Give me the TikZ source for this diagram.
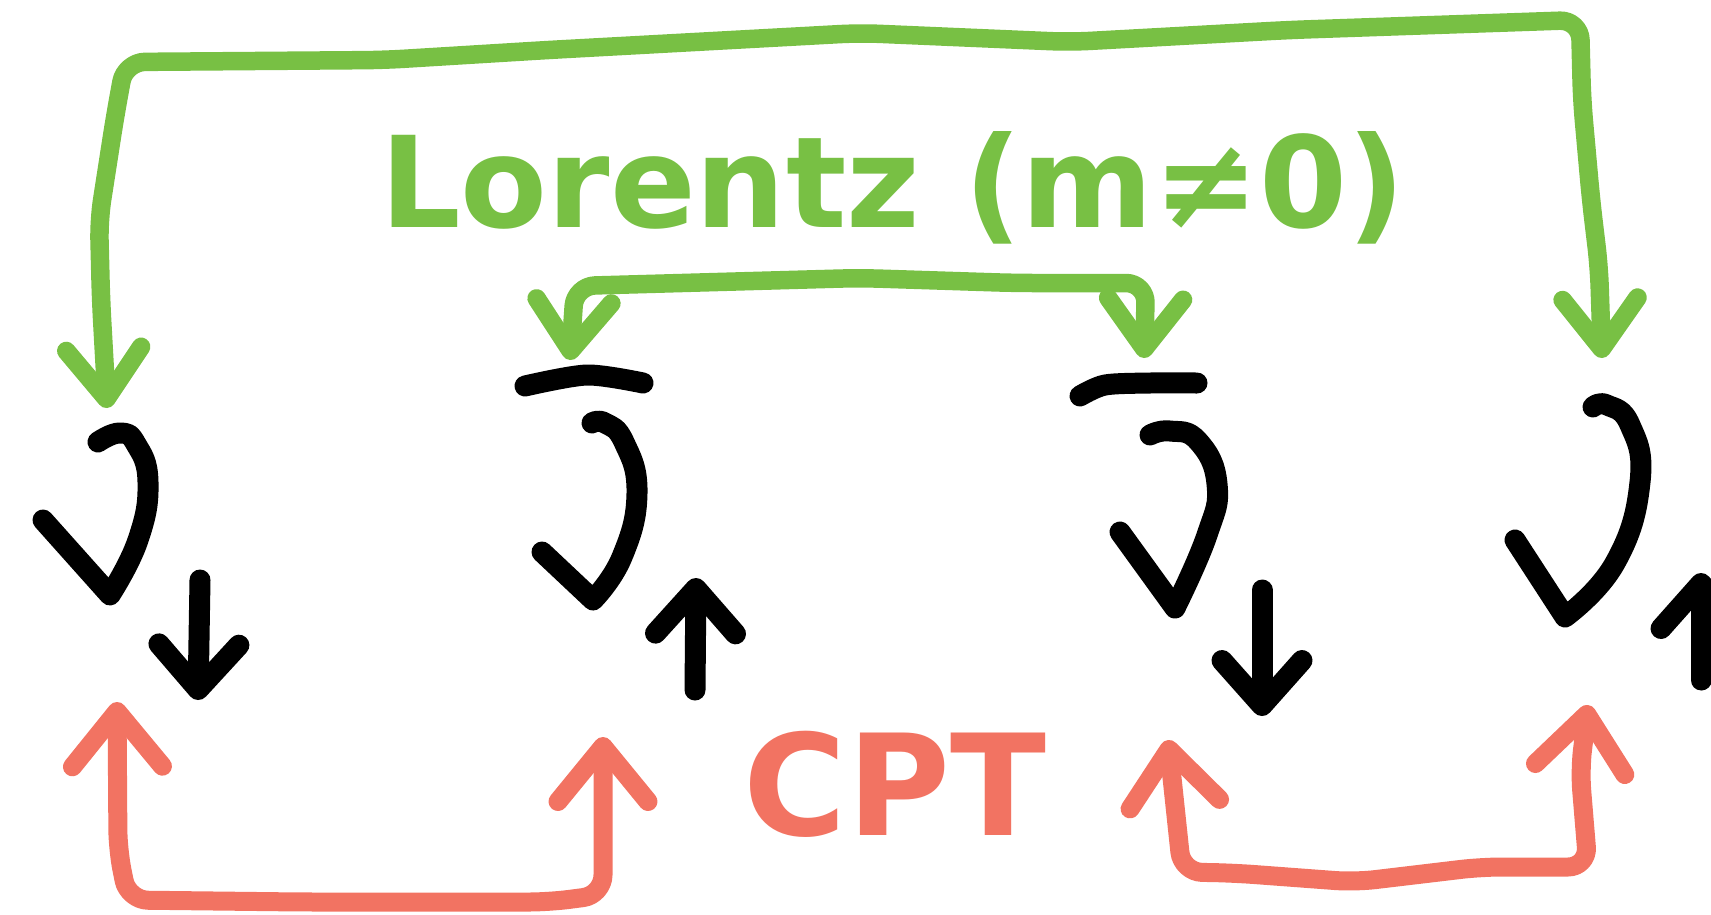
\documentclass[tikz,border=0pt]{standalone}
\usepackage{fontspec}
\setmainfont{DejaVu Sans}
\usepackage{tikz}
\usetikzlibrary{arrows.meta}
\usetikzlibrary{positioning}
\definecolor{lorentzgreen}{RGB}{120,192,68}
\definecolor{cptred}{RGB}{242,115,98}
\tikzset{
    spin/.style={
        draw,
        line width=2.1mm,
        line cap=round,
        line join=round
    },
    momentum/.style={
        spin,
        ->,
        >={Straight Barb[round, length=4.5mm, width=8mm]}
    },
    lorentz/.style={
        draw=lorentzgreen,
        line width=1.85mm,
        line cap=round,
        line join=round,
        rounded corners=2mm,
        <->,
        >={Straight Barb[round, length=5mm, width=7.5mm]}
    },
    cpt/.style={
        draw=cptred,
        line width=1.9mm,
        line cap=round,
        line join=round,
        rounded corners=2mm,
        <->,
        >={Straight Barb[round, length=5.5mm, width=9mm]}
    }
}

\begin{document}
\begin{tikzpicture}[x=0.1mm, y=-0.1mm]
    \useasboundingbox (0,0) rectangle (1711,914);

    % Spin curls of the four states
    \draw[spin] (43,520) -- plot[smooth, tension=0.8] coordinates {(110,595) (138,540) (148,482) (136,444) (120,433) (98,442)};
    \draw[spin] (542,552) -- plot[smooth, tension=0.8] coordinates {(593,600) (622,557) (637,493) (624,442) (605,423) (592,423)};
    \draw[spin] (1120,532) -- plot[smooth, tension=0.8] coordinates {(1175,608) (1207,535) (1217,484) (1198,441) (1170,431) (1150,435)};
    \draw[spin] (1515,540) -- plot[smooth, tension=0.8] coordinates {(1565,617) (1615,563) (1640,482) (1630,425) (1607,405) (1593,407)};

    % Bars over the antiparticles
    \draw[spin] plot[smooth] coordinates {(525,386) (587,375) (643,383)};
    \draw[spin] plot[smooth] coordinates {(1080,396) (1105,385) (1150,383) (1197,383)};

    % Momentum arrows
    \coordinate (k1a) at (200,580);
    \coordinate (k1b) at (198,700);
    \coordinate (k2a) at (695,690);
    \coordinate (k2b) at (696,578);
    \coordinate (k3a) at (1262,590);
    \coordinate (k3b) at (1262,716);
    \coordinate (k4a) at (1701,680);
    \coordinate (k4b) at (1701,573);
    \draw[momentum] (k1a) -- (k1b);
    \draw[momentum] (k2a) -- (k2b);
    \draw[momentum] (k3a) -- (k3b);
    \draw[momentum] (k4a) -- (k4b);

    % Lorentz boosts (outer and inner pair)
    \coordinate (g1) at (107,408);
    \coordinate (g2) at (570,360);
    \coordinate (g3) at (1144,358);
    \coordinate (g4) at (1602,358);
    \draw[lorentz] (g1) -- (101,300) -- (99,220) -- (115,117) -- (125,62) -- (384,60) -- (548,50) -- (860,33) -- (1070,42) -- (1289,30) -- (1580,20) -- (1582,100) -- (1591,200) -- (1599,267) -- (g4);
    \draw[lorentz] (g2) -- (575,286) -- (860,278) -- (1015,283) -- (1146,283) -- (g3);
    \node[text=lorentzgreen, font=\bfseries\fontsize{36}{42}\selectfont, anchor=base] (lorentzlabel) at (893,227) {Lorentz (m≠0)};

    % CPT pairs
    \coordinate (c1) at (117,702);
    \coordinate (c2) at (603,737);
    \coordinate (c3) at (1168,740);
    \coordinate (c4) at (1588,705);
    \draw[cpt] (c1) -- (118,850) -- (128,900) -- (302,902) -- (549,902) -- (603,895) -- (c2);
    \draw[cpt] (c3) -- (1182,872) -- (1234,873) -- (1355,882) -- (1481,867) -- (1588,867) -- (1580,770) -- (c4);
    \node[text=cptred, font=\bfseries\fontsize{40}{46}\selectfont, anchor=base] (cptlabel) at (895,835) {CPT};
\end{tikzpicture}
\end{document}
